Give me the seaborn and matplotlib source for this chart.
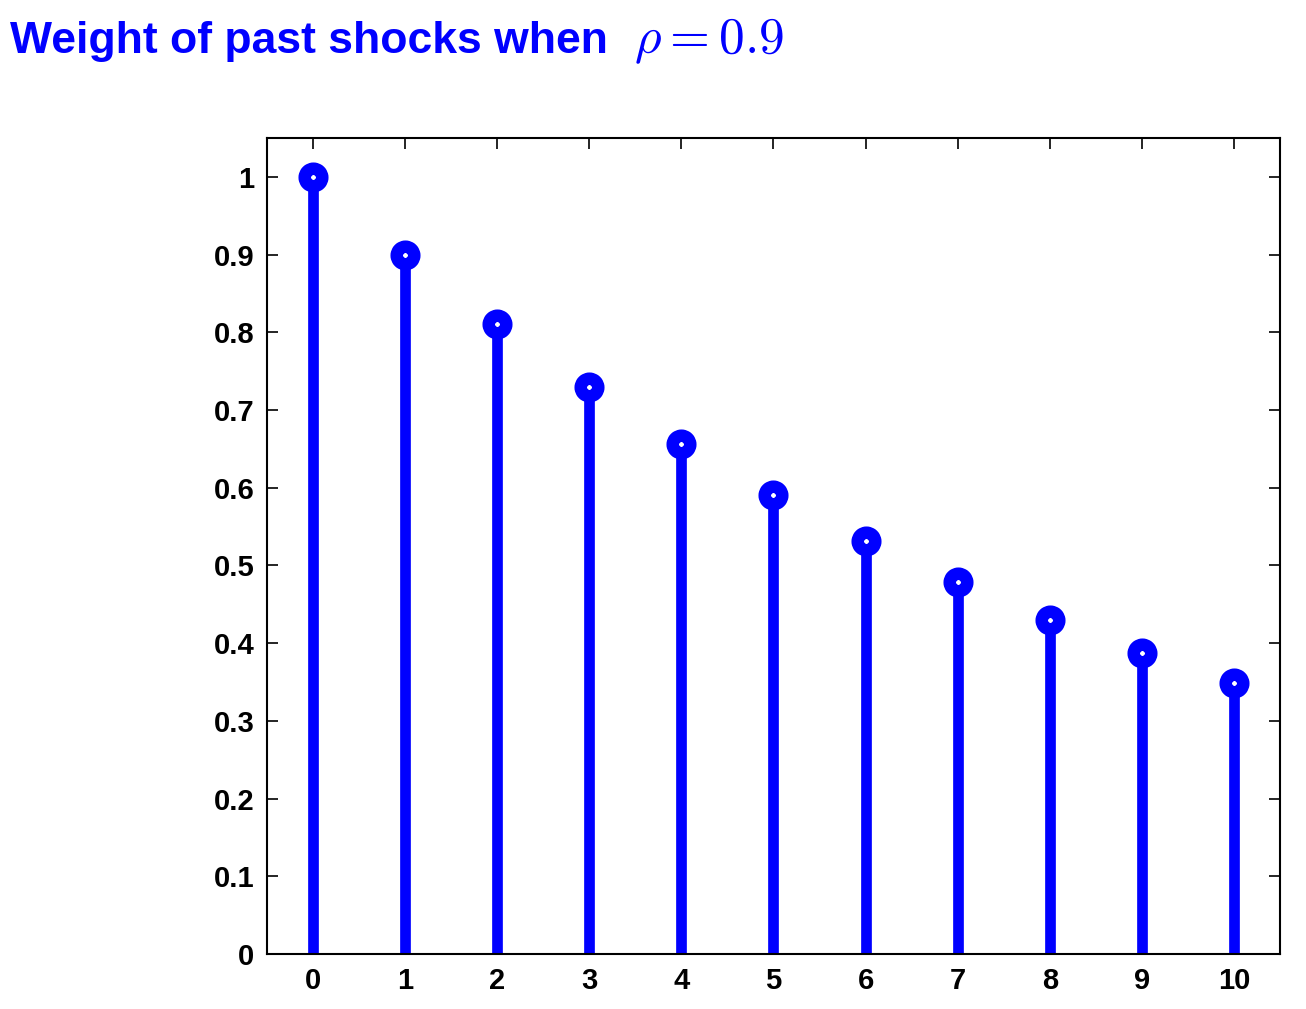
import matplotlib
matplotlib.use("Agg")
import matplotlib.pyplot as plt
import seaborn as sns
import pandas as pd

lags = [0, 1, 2, 3, 4, 5, 6, 7, 8, 9, 10]
weights = [1.0, 0.9, 0.81, 0.729, 0.656, 0.590, 0.531, 0.478, 0.430, 0.387, 0.349]
yticks = [0, 0.1, 0.2, 0.3, 0.4, 0.5, 0.6, 0.7, 0.8, 0.9, 1]
ytick_labels = ["0", "0.1", "0.2", "0.3", "0.4", "0.5", "0.6", "0.7", "0.8", "0.9", "1"]
title_text = "Weight of past shocks when "
title_math = r"$\rho = 0.9$"

sns.set_theme(style="ticks")
plt.rcParams['font.family'] = ['Liberation Sans', 'DejaVu Sans']
plt.rcParams['mathtext.fontset'] = 'cm'

df = pd.DataFrame({"lag": lags, "weight": weights})

fig = plt.figure(figsize=(13.06, 10.09), dpi=100)
ax = fig.add_axes([0.2044, 0.0545, 0.7757, 0.8088])

blue = "#0000FF"
ax.vlines(df["lag"], 0, df["weight"], color=blue, linewidth=7.7, zorder=2)
sns.scatterplot(data=df, x="lag", y="weight", ax=ax, s=160, marker="o",
                facecolor="white", edgecolor=blue, linewidth=9.0, zorder=3,
                legend=False)

ax.set_xlim(-0.5, 10.5)
ax.set_ylim(0, 1.05)
ax.set_xticks(lags)
ax.set_xticklabels([str(v) for v in lags])
ax.set_yticks(yticks)
ax.set_yticklabels(ytick_labels)
ax.set_xlabel("")
ax.set_ylabel("")
ax.tick_params(direction="in", length=8, width=1.2, top=True, right=True,
               labelsize=21, pad=9, colors="black")
for lab in ax.get_xticklabels() + ax.get_yticklabels():
    lab.set_fontweight("bold")
    lab.set_color("black")
for sp in ax.spines.values():
    sp.set_linewidth(1.5)
    sp.set_color("black")
    sp.set_visible(True)

t1 = fig.text(0.008, 0.959, title_text, color=blue, fontsize=32, fontweight="bold",
              ha="left", va="center")
fig.canvas.draw()
bb = t1.get_window_extent(renderer=fig.canvas.get_renderer())
x_next = bb.x1 / fig.bbox.width + 0.010
fig.text(x_next, 0.959, title_math, color=blue, fontsize=37,
         ha="left", va="center")

fig.savefig("out.png", dpi=100)
